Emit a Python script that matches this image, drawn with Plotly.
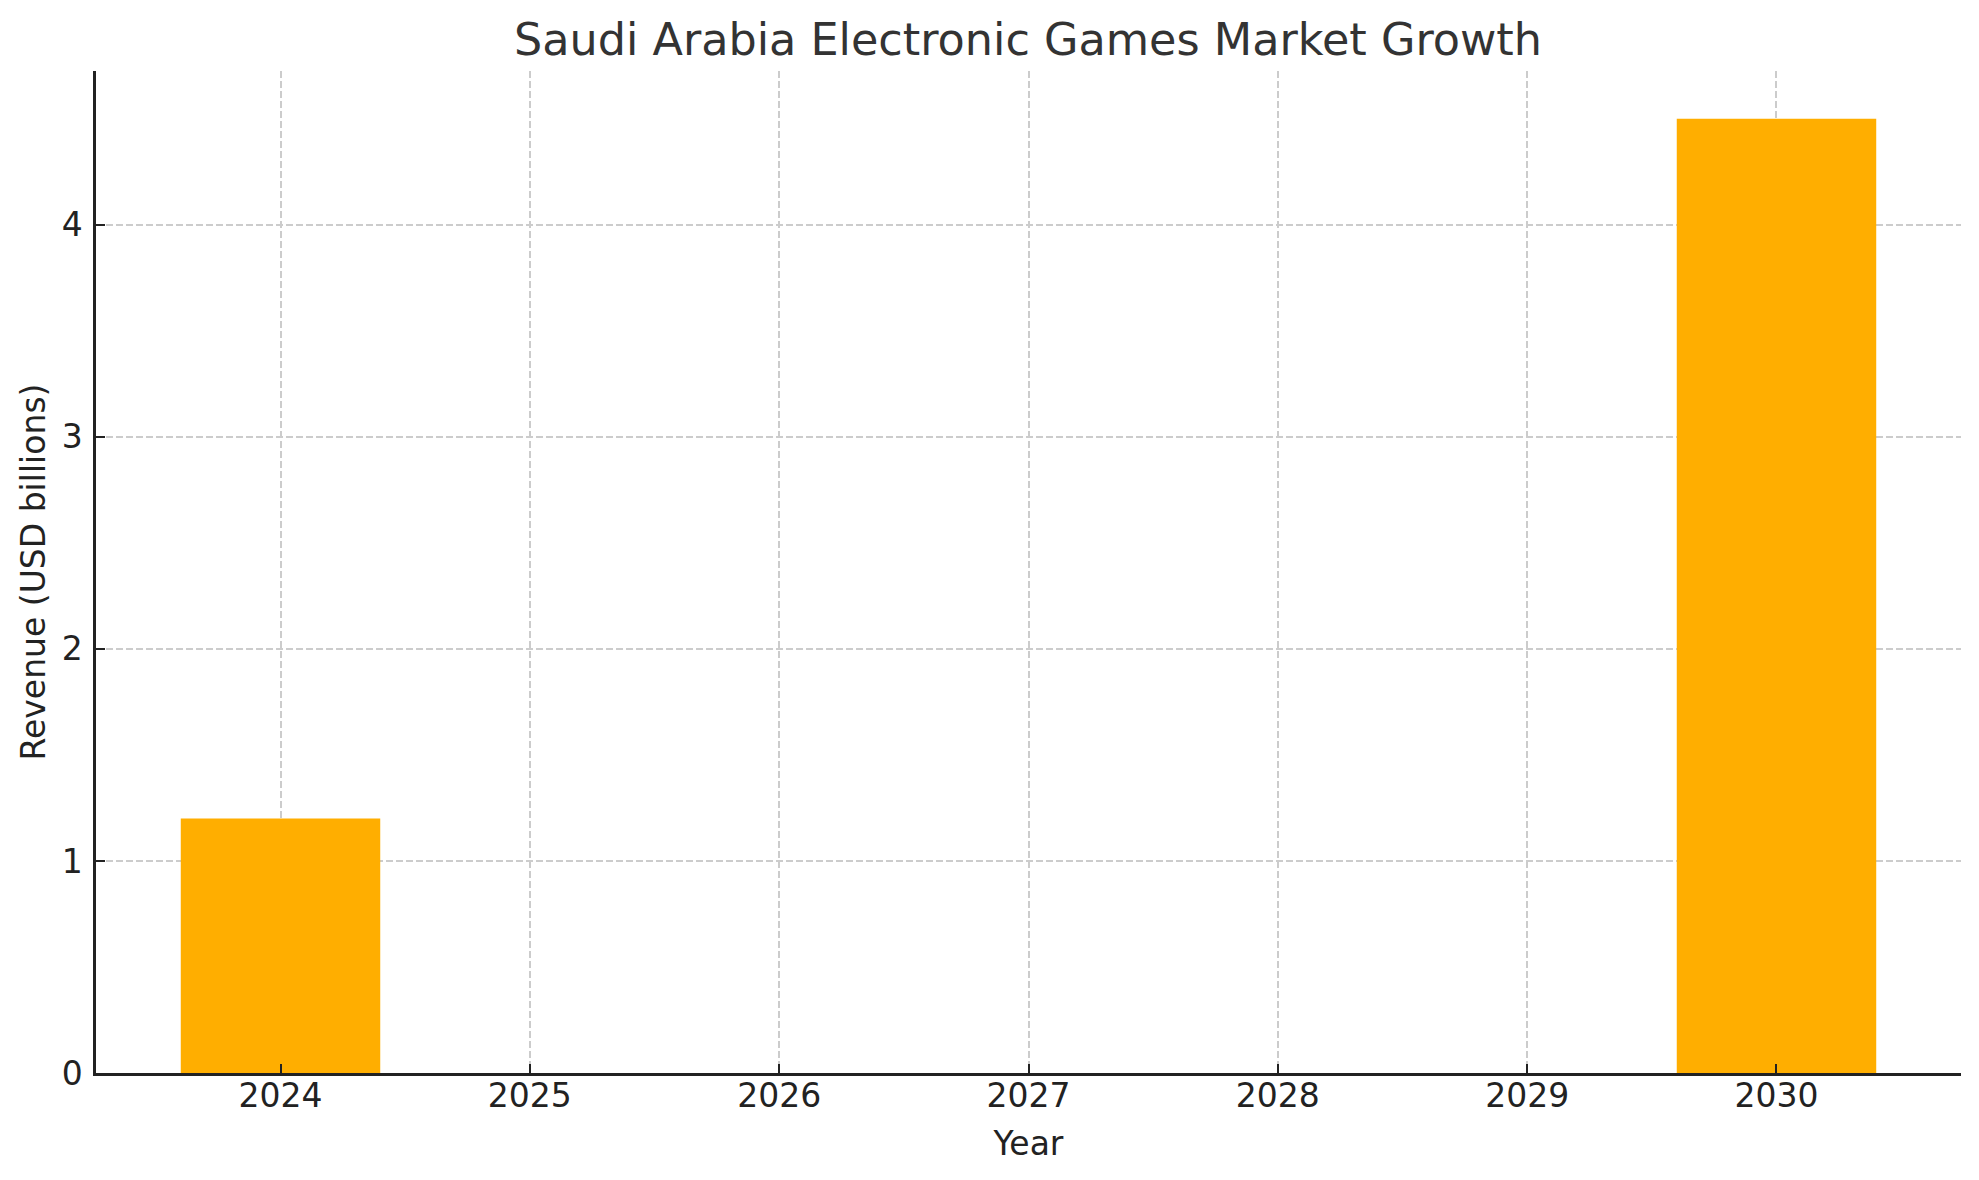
import plotly.graph_objects as go

# data
years = [2024, 2030]
revenue = [1.2, 4.5]
year_ticks = [2024, 2025, 2026, 2027, 2028, 2029, 2030]
rev_ticks = [0, 1, 2, 3, 4]

W, H = 1979, 1180
FONT = "DejaVu Sans"

fig = go.Figure()

fig.add_trace(go.Bar(
    x=years,
    y=revenue,
    width=0.8,
    marker=dict(color="#FFAE00", line=dict(width=0)),
    name="Revenue",
))

# page body has an 8px margin, so margins are shifted to compensate
fig.update_layout(
    width=W,
    height=H,
    margin=dict(l=88, r=26, t=63, b=115),
    paper_bgcolor="white",
    plot_bgcolor="white",
    showlegend=False,
    font=dict(family=FONT, size=33, color="#222222"),
    title=dict(
        text="Saudi Arabia Electronic Games Market Growth",
        x=1020 / W,
        xanchor="center",
        y=1 - 31 / H,
        yanchor="middle",
        yref="container",
        font=dict(family=FONT, size=44.5, color="#333333"),
    ),
)

fig.update_xaxes(
    range=[2023.26, 2030.74],
    tickvals=year_ticks,
    ticktext=[str(y) for y in year_ticks],
    ticks="inside",
    ticklen=9,
    tickwidth=2,
    tickcolor="#222222",
    showline=True,
    linecolor="#222222",
    linewidth=2.5,
    mirror=False,
    showgrid=True,
    gridcolor="#cccccc",
    gridwidth=2,
    griddash="7px,3px",
    zeroline=False,
    ticklabelstandoff=-8,
    title=dict(text="Year", standoff=18, font=dict(size=33, color="#222222")),
)

fig.update_yaxes(
    range=[0, 4.725],
    tickvals=rev_ticks,
    ticks="inside",
    ticklen=9,
    tickwidth=2,
    tickcolor="#222222",
    showline=True,
    linecolor="#222222",
    linewidth=2.5,
    mirror=False,
    showgrid=True,
    gridcolor="#cccccc",
    gridwidth=2,
    griddash="7px,3px",
    zeroline=False,
    ticklabelstandoff=4,
    title=dict(text="Revenue (USD billions)", standoff=7, font=dict(size=33, color="#222222")),
)

fig.write_html("out.html")
